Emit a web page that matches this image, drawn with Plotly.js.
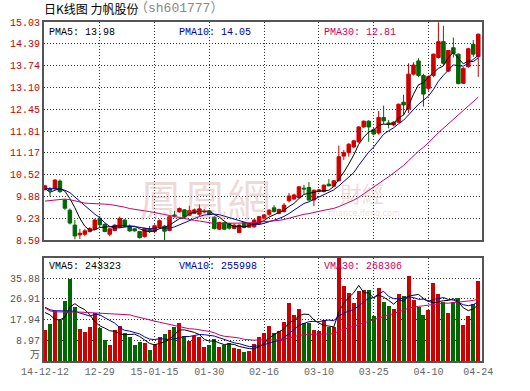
<!DOCTYPE html>
<html><head><meta charset="utf-8">
<script src="https://cdn.plot.ly/plotly-3.0.1.min.js"></script>
<style>html,body{margin:0;padding:0;background:#fff;}#chart{width:530px;height:391px;}</style>
</head><body><div id="chart"></div>
<script>
// ---- data ----
const dates = [
"2014-12-12","2014-12-15","2014-12-16","2014-12-17","2014-12-18","2014-12-19","2014-12-22","2014-12-23","2014-12-24","2014-12-25","2014-12-26","2014-12-29","2014-12-30","2014-12-31",
"2015-01-05","2015-01-06","2015-01-07","2015-01-08","2015-01-09","2015-01-12","2015-01-13","2015-01-14","2015-01-15","2015-01-16","2015-01-19","2015-01-20","2015-01-21","2015-01-22","2015-01-23","2015-01-26","2015-01-27","2015-01-28","2015-01-29","2015-01-30",
"2015-02-02","2015-02-03","2015-02-04","2015-02-05","2015-02-06","2015-02-09","2015-02-10","2015-02-11","2015-02-12","2015-02-13","2015-02-16","2015-02-17","2015-02-25","2015-02-26","2015-02-27",
"2015-03-02","2015-03-03","2015-03-04","2015-03-05","2015-03-06","2015-03-09","2015-03-10","2015-03-11","2015-03-12","2015-03-13","2015-03-16","2015-03-17","2015-03-18","2015-03-19","2015-03-20","2015-03-23","2015-03-24","2015-03-25","2015-03-26","2015-03-27","2015-03-30","2015-03-31",
"2015-04-01","2015-04-02","2015-04-03","2015-04-07","2015-04-08","2015-04-09","2015-04-10","2015-04-13","2015-04-14","2015-04-15","2015-04-16","2015-04-17","2015-04-20","2015-04-21","2015-04-22","2015-04-23","2015-04-24"];

const open = [10.08,10.10,10.11,10.33,9.77,9.47,9.03,8.74,8.76,8.84, 8.91,9.23,9.05,8.76,8.87,8.96,9.18,9.00,8.92,8.84, 8.69,8.92,8.84,8.98,9.00,8.87,9.33,9.42,9.48,9.32, 9.38,9.35,9.42,9.45,9.26,8.91,9.10,9.08,8.93,8.81, 9.11,8.97,8.98,9.08,9.23,9.35,9.54,9.38,9.43,9.75, 9.80,9.84,10.12,10.14,9.77,10.03,10.02,10.24,10.18,10.34, 11.07,11.17,11.34,11.49,11.93,12.10,11.85,11.75,12.21,12.05, 11.99,12.07,12.66,12.46,13.49,13.88,13.45,13.07,13.45,13.98, 14.45,13.58,14.27,14.08,13.22,13.71,14.37,14.01];
const high = [10.22,10.15,10.39,10.38,9.80,9.52,9.18,8.92,8.92,8.97, 9.22,9.30,9.08,8.95,9.05,9.28,9.20,9.05,8.95,8.86, 8.95,9.00,9.05,9.20,9.03,9.30,9.45,9.55,9.50,9.60, 9.52,9.64,9.50,9.48,9.30,9.13,9.14,9.10,9.06,9.05, 9.12,9.11,9.20,9.30,9.36,9.50,9.62,9.52,9.68,9.98, 9.96,10.18,10.22,10.30,10.08,10.10,10.23,10.39,10.36,11.38, 11.25,11.45,11.55,11.95,12.12,12.13,11.90,12.40,12.56,12.14, 12.10,12.62,12.88,13.81,13.84,13.96,13.50,13.45,14.10,15.02, 14.92,14.20,14.57,14.10,13.70,14.27,14.50,14.69];
const low = [10.05,9.88,10.08,9.98,9.48,9.05,8.61,8.62,8.70,8.81, 8.87,8.97,8.82,8.70,8.85,8.94,8.98,8.83,8.84,8.63, 8.66,8.80,8.80,8.92,8.59,8.85,9.25,9.40,9.25,9.30, 9.36,9.30,9.38,9.32,8.90,8.88,8.88,8.90,8.91,8.79, 8.94,8.95,8.95,9.05,9.20,9.30,9.40,9.35,9.40,9.70, 9.78,9.82,9.95,9.75,9.59,10.00,10.00,10.18,10.15,10.32, 10.95,11.05,11.30,11.45,11.90,11.49,11.68,11.70,12.01,11.89, 11.95,12.05,12.29,12.34,13.45,13.40,12.53,13.00,13.40,13.95, 13.75,13.55,13.98,13.19,13.20,13.68,14.00,13.41];
const close = [10.19,10.06,10.36,10.02,9.53,9.09,8.71,8.79,8.86,8.93, 9.18,9.04,8.84,8.92,9.03,9.23,9.00,8.86,8.86,8.66, 8.93,8.85,9.01,9.16,8.85,9.28,9.30,9.52,9.28,9.46, 9.48,9.51,9.44,9.35,8.93,9.11,8.91,8.94,9.03,9.03, 8.96,9.08,9.18,9.28,9.33,9.47,9.43,9.49,9.62,9.89, 9.92,10.16,10.10,9.77,10.06,10.07,10.21,10.19,10.34,11.05, 11.17,11.42,11.52,11.93,12.10,11.93,11.72,12.21,12.11,12.03, 12.07,12.60,12.58,13.49,13.76,13.45,12.90,13.42,14.08,14.45, 13.81,14.19,14.10,13.21,13.66,14.24,14.08,14.67];
// volume in 万 (10k)
const volume = [13.45,16.05,21.7,17.8,26.0,35.4,23.3,13.9,12.7,14.6, 20.7,14.2,9.1,6.9,13.45,15.2,12.3,10.3,6.9,8.4, 7.7,4.8,7.2,10.3,11.7,13.45,14.9,16.6,10.8,8.8, 10.8,10.3,6.2,6.9,9.4,6.2,6.9,7.7,5.5,5.2, 4.0,4.3,7.4,10.3,12.0,15.2,12.3,13.0,17.1,25.3, 20.0,22.6,16.6,16.3,13.45,13.2,17.8,14.9,14.6,46.0, 32.5,29.5,25.3,30.5,30.8,30.8,19.5,31.5,25.7,23.9, 22.6,29.0,28.2,37.0,26.5,23.6,20.0,22.1,34.0,29.0, 25.5,20.7,25.7,27.5,15.6,19.6,24.5,34.5];

// moving-average values before enough in-window history exists
const pma5Head = [10.11,10.00,10.06,10.11];
const pma10Head = [10.11,10.11,10.11,10.10,10.06,9.99,9.86,9.73,9.60];
const pma30Head = [9.74,9.75,9.77,9.79,9.80,9.78,9.74,9.70,9.68,9.67,9.67,9.66,9.65,9.64,9.62,9.59,9.56,9.52,9.49,9.47,9.45,9.43,9.40,9.37,9.33,9.30,9.27,9.24,9.21];
const vma5Head = [21.0,20.0,18.0,17.8];
const vma10Head = [23.3,22.2,21.8,21.8,21.8,21.8,21.6,20.8,20.3];
const vma30Head = [23.0,21.7,21.3,21.2,21.2,21.2,21.2,21.2,21.1,21.0,20.7,20.6,20.5,20.4,20.3,20.2,20.1,20.0,19.4,18.8,18.3,17.8,17.3,16.8,16.3,15.8,15.3,14.8,14.3];

const priceTickLabels = ["8.59","9.23","9.88","10.52","11.17","11.81","12.45","13.10","13.74","14.39","15.03"];
const volTickLabels = ["8.97","17.94","26.91","35.88"];
const volRangeTop = 44.85;
const legendPrice = ["PMA5: 13.98","PMA10: 14.05","PMA30: 12.81"];
const legendVol = ["VMA5: 243323","VMA10: 255998","VMA30: 268306"];
const titleMain = "日K线图 力帆股份";
const titleCode = "（sh601777）";
const volUnit = "万";
const dateTickIdx = [0,11,22,33,44,55,66,77,87];
const gridIdx = [11,22,33,44,55,66,77];

// ---- build ----
const idx = dates.map((d,i)=>i);
function movingAvg(vals, n, head){
  return vals.map((v,i)=> i < n-1 ? head[i] : vals.slice(i-n+1,i+1).reduce((a,b)=>a+b,0)/n);
}
// year shown on the first tick and on the first tick of a new year
function tickText(k){
  const d = dates[dateTickIdx[k]];
  if (k===0 || d.slice(0,4)!==dates[dateTickIdx[k-1]].slice(0,4)) return d.slice(2);
  return d.slice(5);
}
const RED='#cc0000', GREEN='#006600', BLK='#000000', BLUE='#0000aa', MAG='#cc0066';
const volColors = idx.map(i => close[i] >= open[i] ? RED : GREEN);

const traces = [
  {type:'candlestick', x:idx, open:open, high:high, low:low, close:close, xaxis:'x', yaxis:'y',
   increasing:{line:{color:RED,width:1},fillcolor:RED}, decreasing:{line:{color:GREEN,width:1},fillcolor:GREEN},
   whiskerwidth:0, hoverinfo:'skip'},
  {type:'scatter', mode:'lines', x:idx, y:movingAvg(close,5,pma5Head), line:{color:BLK,width:1}, xaxis:'x', yaxis:'y'},
  {type:'scatter', mode:'lines', x:idx, y:movingAvg(close,10,pma10Head), line:{color:BLUE,width:1}, xaxis:'x', yaxis:'y'},
  {type:'scatter', mode:'lines', x:idx, y:movingAvg(close,30,pma30Head), line:{color:MAG,width:1}, xaxis:'x', yaxis:'y'},
  {type:'bar', x:idx, y:volume, marker:{color:volColors, line:{width:0}}, width:0.8, xaxis:'x2', yaxis:'y2'},
  {type:'scatter', mode:'lines', x:idx, y:movingAvg(volume,5,vma5Head), line:{color:BLK,width:1}, xaxis:'x2', yaxis:'y2'},
  {type:'scatter', mode:'lines', x:idx, y:movingAvg(volume,10,vma10Head), line:{color:BLUE,width:1}, xaxis:'x2', yaxis:'y2'},
  {type:'scatter', mode:'lines', x:idx, y:movingAvg(volume,30,vma30Head), line:{color:MAG,width:1}, xaxis:'x2', yaxis:'y2'}
];

const L=44, T=22, W=438, H=339;
const px = x => (x-L)/W;
const py = y => (T+H-y)/H;
const MONO = 'Liberation Mono, DejaVu Sans Mono, monospace';
const GRID = '#333333', DASH='1px,2px', FRAME='#555555';
const minorGrid = {tickmode:'array', tickvals:gridIdx, showgrid:true, gridcolor:GRID, griddash:DASH, gridwidth:1, ticks:''};

function ann(text,x,y,color,size,family,xanchor){
  return {text:text, xref:'paper', yref:'paper', x:px(x), y:py(y), xanchor:xanchor||'left', yanchor:'middle',
          showarrow:false, font:{color:color, size:size, family:family}};
}
const WM = 'rgba(195,120,120,0.28)';
const CJK = 'Noto Sans CJK SC';
const annotations = [
  ann(titleMain, 42, 8, '#000', 12, CJK),
  ann(titleCode, 133, 8, '#888', 13, MONO + ', ' + CJK),
  ann(legendPrice[0], 47, 32.5, BLK, 10, MONO),
  ann(legendPrice[1], 177, 32.5, BLUE, 10, MONO),
  ann(legendPrice[2], 322, 32.5, MAG, 10, MONO),
  ann(legendVol[0], 47, 266, BLK, 10, MONO),
  ann(legendVol[1], 177, 266, BLUE, 10, MONO),
  ann(legendVol[2], 322, 266, MAG, 10, MONO),
  ann(volUnit, 42, 353, '#555', 10, CJK, 'right'),
  ann('鳳凰網', 205, 198, WM, 44, 'Noto Sans CJK TC', 'center'),
  ann('財經', 362, 192, WM, 22, 'Noto Sans CJK TC', 'center'),
  ann('finance.ifeng.com', 364, 213, WM, 8, 'DejaVu Sans', 'center')
];

const layout = {
  width:530, height:391, margin:{l:L, r:530-L-W, t:T, b:391-T-H, pad:0},
  paper_bgcolor:'#fff', plot_bgcolor:'#fff', showlegend:false, hovermode:false, dragmode:false,
  boxgap:0.12, boxgroupgap:0.2,
  bargap:0,
  xaxis:{domain:[0,1], anchor:'y', range:[-0.2,87.75], showticklabels:false, showgrid:false, zeroline:false,
         showline:true, mirror:true, linecolor:FRAME, linewidth:2, ticks:'', rangeslider:{visible:false}, minor:minorGrid},
  xaxis2:{domain:[0,1], anchor:'y2', matches:'x', range:[-0.2,87.75], showgrid:false, zeroline:false,
          showline:true, mirror:true, linecolor:FRAME, linewidth:2, ticks:'',
          tickmode:'array', tickvals:dateTickIdx, ticktext:dateTickIdx.map((v,k)=>tickText(k)),
          tickfont:{family:MONO, size:10, color:'#666'}, minor:minorGrid},
  yaxis:{domain:[py(240),1], anchor:'x', range:[Number(priceTickLabels[0]), Number(priceTickLabels[priceTickLabels.length-1])],
         tickmode:'array', tickvals:priceTickLabels.map(Number), ticktext:priceTickLabels,
         tickfont:{family:MONO, size:10, color:RED}, showgrid:true, gridcolor:GRID, griddash:DASH, gridwidth:1,
         zeroline:false, showline:true, mirror:true, linecolor:FRAME, linewidth:2, ticks:''},
  yaxis2:{domain:[0,py(257.5)], anchor:'x2', range:[0,volRangeTop],
          tickmode:'array', tickvals:volTickLabels.map(Number), ticktext:volTickLabels,
          tickfont:{family:MONO, size:10, color:'#555'}, showgrid:true, gridcolor:GRID, griddash:DASH, gridwidth:1,
          zeroline:false, showline:true, mirror:true, linecolor:FRAME, linewidth:2, ticks:''},
  annotations:annotations
};
Plotly.newPlot('chart', traces, layout, {staticPlot:true, displayModeBar:false});
</script></body></html>
